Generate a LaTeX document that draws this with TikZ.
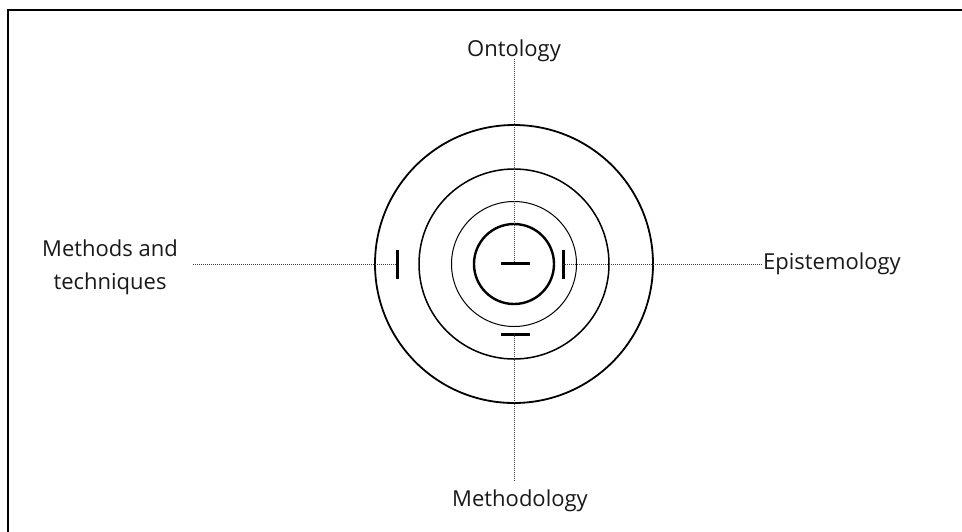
\documentclass[tikz,border=0pt]{standalone}
\usepackage{fontspec}
\setmainfont{Open Sans}
\begin{document}
\begin{tikzpicture}[x=1pt, y=-1pt,
    lbl/.style={font=\fontsize{22}{33}\selectfont, text=black!90, inner sep=0pt},
    guide/.style={black!75, line width=1pt, dash pattern=on 1pt off 1pt},
    tick/.style={line width=3pt}]
    \useasboundingbox (0,0) rectangle (962,531);
    \draw[line width=2pt] (8,10) rectangle (975,545);
    \coordinate (c) at (514,264);
    % the four rings
    \draw[line width=1.8pt] (c) circle (139);
    \draw[line width=1.5pt] (c) circle (95);
    \draw[line width=1pt] (c) circle (62.5);
    \draw[line width=2.4pt] (c) circle (40);
    % short bars
    \coordinate (tc) at (514,263);
    \coordinate (tr) at (563,264);
    \coordinate (tl) at (397,264);
    \coordinate (tb) at (514,334);
    \draw[tick] (501,263) -- (530,263);
    \draw[tick] (563,250) -- (563,279);
    \draw[tick] (397,250) -- (397,279);
    \draw[tick] (501,334) -- (530,334);
    % labels
    \node[lbl] (onto) at (514,51) {Ontology};
    \node[lbl] (methodo) at (520,501) {Methodology};
    \node[lbl, anchor=west] (episte) at (763,264) {Epistemology};
    \node[lbl, align=center] (methods) at (110,267) {Methods and\\techniques};
    \draw[guide] (onto.south) ++(0,-3) -- (tc);
    \draw[guide] (tb) -- (tb |- 0,482);
    \draw[guide] (tr) -- (episte.west);
    \draw[guide] (methods.east |- tl) ++(15,0) -- (tl);
\end{tikzpicture}
\end{document}
